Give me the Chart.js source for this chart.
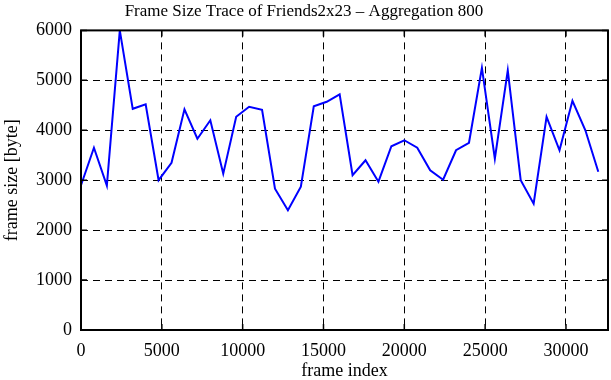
<!DOCTYPE html>
<html>
<head>
<meta charset="utf-8">
<script src="https://cdn.jsdelivr.net/npm/chart.js@4/dist/chart.umd.min.js"></script>
<style>
  html, body { margin: 0; padding: 0; background: #fff; }
  #wrap { width: 611px; height: 380px; }
</style>
</head>
<body>
<div id="wrap"><canvas id="trace"></canvas></div>
<script>
// frame index of each aggregated sample (aggregation window 800 frames)
var frameIndex = [0, 800, 1600, 2400, 3200, 4000, 4800, 5600, 6400, 7200,
                  8000, 8800, 9600, 10400, 11200, 12000, 12800, 13600, 14400, 15200,
                  16000, 16800, 17600, 18400, 19200, 20000, 20800, 21600, 22400, 23200,
                  24000, 24800, 25600, 26400, 27200, 28000, 28800, 29600, 30400, 31200,
                  32000];
// frame size [byte]
var frameSize = [2900, 3650, 2890, 6000, 4430, 4520, 3000, 3350, 4420, 3830,
                 4200, 3130, 4270, 4470, 4410, 2830, 2400, 2870, 4480, 4570,
                 4720, 3100, 3400, 2970, 3680, 3800, 3650, 3200, 3010, 3600,
                 3750, 5250, 3430, 5200, 3000, 2530, 4270, 3600, 4590, 4000,
                 3170];
var xTicks = [0, 5000, 10000, 15000, 20000, 25000, 30000];
var yTicks = [0, 1000, 2000, 3000, 4000, 5000, 6000];

var serif = "'Liberation Serif', 'Times New Roman', serif";

// gnuplot style frame: solid border with inward tick marks on all four sides
var framePlugin = {
  id: 'frame',
  afterDraw: function(chart) {
    var ctx = chart.ctx, a = chart.chartArea;
    var xs = chart.scales.x, ys = chart.scales.y;
    var len = 6;
    ctx.save();
    ctx.strokeStyle = '#000';
    ctx.lineWidth = 1.5;
    ctx.beginPath();
    xTicks.forEach(function(v) {
      var px = xs.getPixelForValue(v);
      ctx.moveTo(px, a.bottom); ctx.lineTo(px, a.bottom - len);
      ctx.moveTo(px, a.top); ctx.lineTo(px, a.top + len);
    });
    yTicks.forEach(function(v) {
      var py = ys.getPixelForValue(v);
      ctx.moveTo(a.left, py); ctx.lineTo(a.left + len, py);
      ctx.moveTo(a.right, py); ctx.lineTo(a.right - len, py);
    });
    ctx.stroke();
    ctx.lineWidth = 2;
    ctx.strokeRect(a.left, a.top, a.right - a.left, a.bottom - a.top);
    ctx.restore();
  }
};

var plainNumber = function(value) { return String(value); };

var ctx = document.getElementById('trace').getContext('2d');
var chart = new Chart(ctx, {
  type: 'line',
  data: {
    datasets: [{
      label: 'Friends2x23',
      data: frameIndex.map(function(x, i) { return { x: x, y: frameSize[i] }; }),
      borderColor: '#0000ff',
      borderWidth: 2,
      pointRadius: 0,
      tension: 0,
      fill: false
    }]
  },
  options: {
    responsive: true,
    maintainAspectRatio: false,
    animation: false,
    layout: { padding: { left: 0, right: 3, top: 0, bottom: 0 } },
    plugins: {
      legend: { display: false },
      tooltip: { enabled: false },
      title: {
        display: true,
        text: 'Frame Size Trace of Friends2x23 \u2013 Aggregation 800',
        color: '#000',
        font: { family: serif, size: 17, weight: 'normal', lineHeight: 1.2 },
        padding: { top: 1, bottom: 9 }
      }
    },
    scales: {
      x: {
        type: 'linear',
        min: 0,
        max: 32600,
        afterBuildTicks: function(scale) {
          scale.ticks = xTicks.map(function(v) { return { value: v }; });
        },
        afterFit: function(scale) { scale.height = 50; },
        ticks: {
          color: '#000',
          padding: 10,
          maxRotation: 0,
          callback: plainNumber,
          font: { family: serif, size: 18 }
        },
        grid: {
          color: '#000',
          lineWidth: 1,
          drawTicks: false
        },
        border: { display: false, dash: [7, 5] },
        title: {
          display: true,
          text: 'frame index',
          color: '#000',
          font: { family: serif, size: 18, lineHeight: 1 },
          padding: { top: 0, bottom: 0 }
        }
      },
      y: {
        min: 0,
        max: 6000,
        afterBuildTicks: function(scale) {
          scale.ticks = yTicks.map(function(v) { return { value: v }; });
        },
        afterFit: function(scale) { scale.width = 81; },
        ticks: {
          color: '#000',
          padding: 9,
          callback: plainNumber,
          font: { family: serif, size: 18 }
        },
        grid: {
          color: '#000',
          lineWidth: 1,
          drawTicks: false
        },
        border: { display: false, dash: [7, 5] },
        title: {
          display: true,
          text: 'frame size [byte]',
          color: '#000',
          font: { family: serif, size: 18, lineHeight: 1 },
          padding: { top: 3, bottom: 0 }
        }
      }
    }
  },
  plugins: [framePlugin]
});
</script>
</body>
</html>
